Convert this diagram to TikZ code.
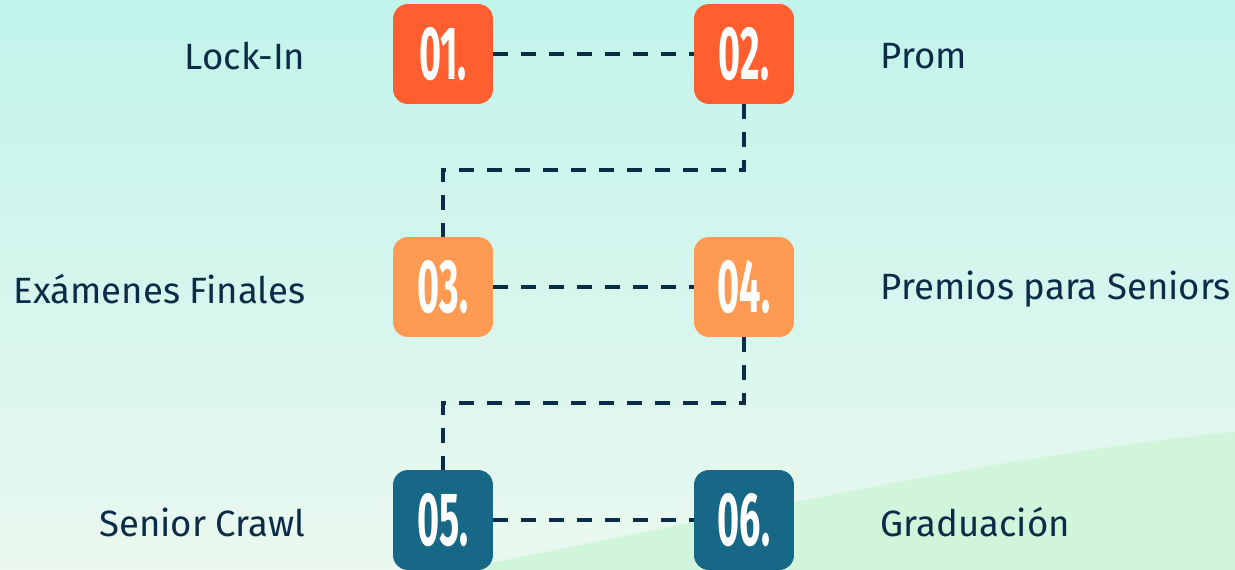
\documentclass[tikz,border=0pt]{standalone}
\usepackage{fontspec}
\setmainfont{Fira Sans}
\newfontfamily\numfont[FakeStretch=0.5]{Fira Sans}
\usetikzlibrary{positioning}

\definecolor{hotorange}{HTML}{FF5F2E}
\definecolor{softorange}{HTML}{FF9A52}
\definecolor{deepteal}{HTML}{176886}
\definecolor{navyink}{HTML}{0B2C48}
\definecolor{mintTop}{HTML}{C1F4EB}
\definecolor{mintBottom}{HTML}{EAF8EF}
\definecolor{meadow}{HTML}{D0F5DA}

\tikzset{
  numbox/.style={rounded corners=0.3cm, minimum width=2cm, minimum height=2cm,
    inner sep=0pt, text=white, font=\numfont\bfseries\fontsize{43}{44}\selectfont},
  itemlabel/.style={text=navyink, inner sep=0pt, font=\fontsize{20.8}{24}\selectfont},
  link/.style={navyink, line width=2.2pt, dash pattern=on 0.3cm off 0.26cm}
}

\begin{document}
\begin{tikzpicture}[x=0.02cm, y=-0.02cm]
  % background
  \shade[top color=mintTop, bottom color=mintBottom] (0,0) rectangle (1235,570);
  \fill[meadow] (455,570) .. controls (750,512) and (1000,455) .. (1235,432) -- (1235,570) -- cycle;
  \useasboundingbox (0,0) rectangle (1235,570);

  % number boxes
  \node[numbox, fill=hotorange] (n1) at (443,54) {01.};
  \node[numbox, fill=hotorange] (n2) at (744,54) {02.};
  \node[numbox, fill=softorange] (n3) at (443,287) {03.};
  \node[numbox, fill=softorange] (n4) at (744,287) {04.};
  \node[numbox, fill=deepteal] (n5) at (443,520) {05.};
  \node[numbox, fill=deepteal] (n6) at (744,520) {06.};

  % labels
  \node[itemlabel, left=1.74cm of n1, yshift=-0.05cm] (l1) {Lock-In};
  \node[itemlabel, right=1.72cm of n2, yshift=-0.05cm] (l2) {Prom};
  \node[itemlabel, left=1.74cm of n3, yshift=-0.05cm] (l3) {Exámenes Finales};
  \node[itemlabel, right=1.72cm of n4, yshift=-0.05cm] (l4) {Premios para Seniors};
  \node[itemlabel, left=1.74cm of n5, yshift=-0.05cm] (l5) {Senior Crawl};
  \node[itemlabel, right=1.72cm of n6, yshift=-0.05cm] (l6) {Graduación};

  % dashed path
  \draw[link] (n1) -- (n2);
  \draw[link] (n2.south) -- ++(0,66) -| (n3.north);
  \draw[link] (n3) -- (n4);
  \draw[link] (n4.south) -- ++(0,66) -| (n5.north);
  \draw[link] (n5) -- (n6);
\end{tikzpicture}
\end{document}
